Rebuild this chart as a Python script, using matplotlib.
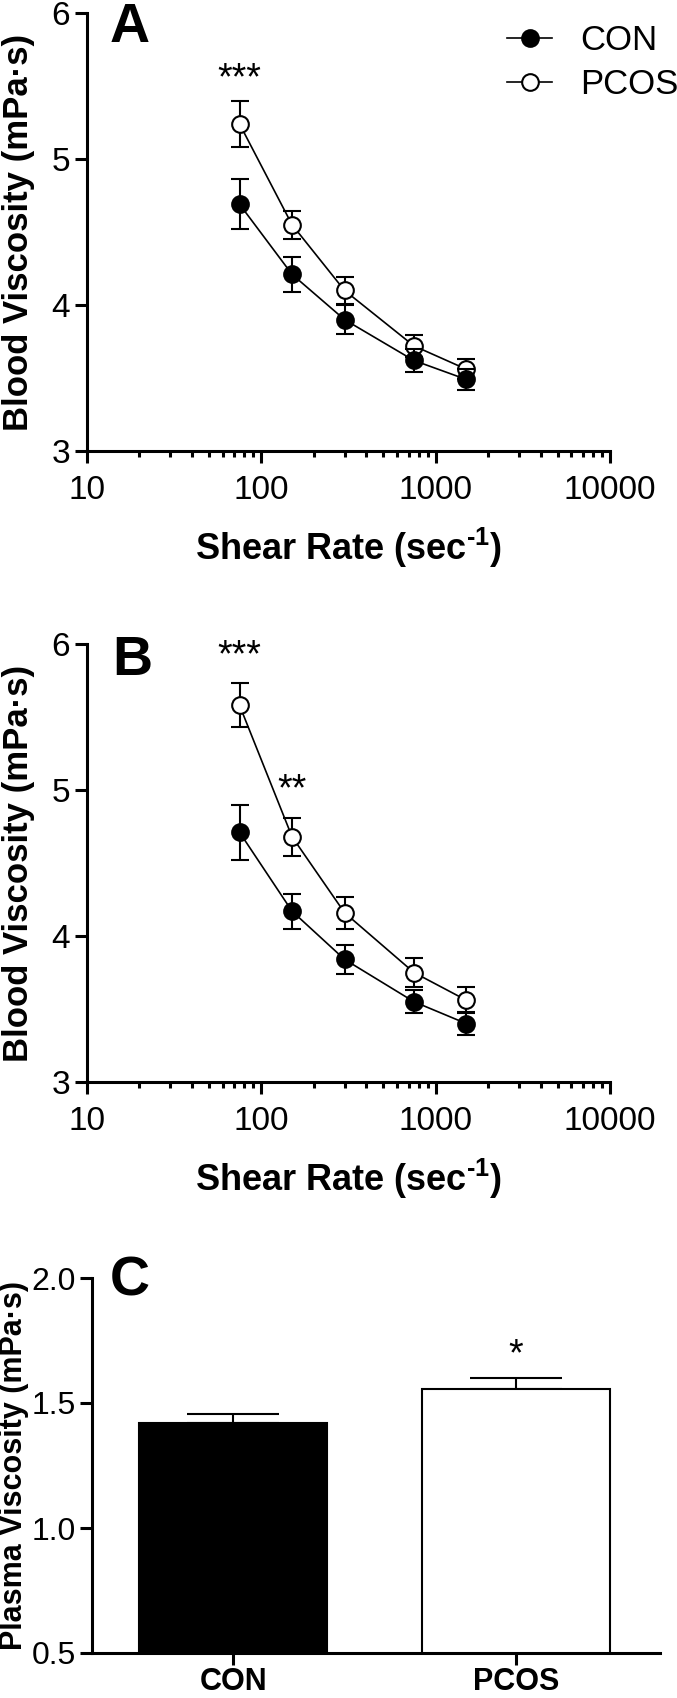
import matplotlib
matplotlib.use("Agg")
import matplotlib.pyplot as plt
from matplotlib.lines import Line2D
from matplotlib.ticker import LogLocator, NullFormatter, FormatStrFormatter

plt.rcParams['font.family'] = ['Liberation Sans', 'DejaVu Sans']
plt.rcParams['mathtext.fontset'] = 'custom'
plt.rcParams['mathtext.rm'] = 'Liberation Sans:bold'
plt.rcParams['mathtext.default'] = 'regular'

# ---- data ----
shear_rate = [75, 150, 300, 750, 1500]

# panel A
a_con = [4.69, 4.21, 3.90, 3.62, 3.49]
a_con_sem = [0.17, 0.12, 0.10, 0.08, 0.07]
a_pcos = [5.24, 4.55, 4.10, 3.72, 3.56]
a_pcos_sem = [0.16, 0.095, 0.09, 0.075, 0.07]
a_sig = [(75, 5.48, '***')]

# panel B
b_con = [4.71, 4.17, 3.84, 3.55, 3.40]
b_con_sem = [0.19, 0.12, 0.10, 0.08, 0.08]
b_pcos = [5.58, 4.68, 4.16, 3.75, 3.56]
b_pcos_sem = [0.15, 0.13, 0.11, 0.10, 0.09]
b_sig = [(75, 5.85, '***'), (150, 4.93, '**')]

# panel C
groups = ['CON', 'PCOS']
plasma = [1.42, 1.555]
plasma_sem = [0.035, 0.045]
c_sig = [(1, 1.65, '*')]

W, H = 677, 1698
fig = plt.figure(figsize=(W / 100, H / 100), dpi=100)

XLABEL = r'Shear Rate (sec$^{\text{-}1}$)'


def style_axes(ax):
    for s in ['top', 'right']:
        ax.spines[s].set_visible(False)
    for s in ['left', 'bottom']:
        ax.spines[s].set_linewidth(2.2)
    ax.tick_params(which='major', length=8.6, width=2.2, direction='out')
    ax.tick_params(which='minor', length=4.3, width=2.2, direction='out')


def line_panel(ax, con, con_sem, pcos, pcos_sem, sig):
    ax.errorbar(shear_rate, pcos, yerr=pcos_sem, fmt='o-', color='black',
                mfc='white', mec='black', ms=12, mew=1.5, lw=1.2,
                elinewidth=1.5, capsize=6.5, capthick=1.5, zorder=3)
    ax.errorbar(shear_rate, con, yerr=con_sem, fmt='o-', color='black',
                mfc='black', mec='black', ms=12, mew=1.5, lw=1.2,
                elinewidth=1.5, capsize=6.5, capthick=1.5, zorder=4)
    for x, y, s in sig:
        ax.text(x, y, s, ha='center', va='baseline', fontsize=27)
    ax.set_xscale('log')
    ax.set_xlim(10, 10000)
    ax.set_ylim(3, 6)
    ax.set_xticks([10, 100, 1000, 10000])
    ax.set_xticklabels(['10', '100', '1000', '10000'])
    ax.xaxis.set_minor_locator(LogLocator(base=10, subs=range(2, 10)))
    ax.xaxis.set_minor_formatter(NullFormatter())
    ax.set_yticks([3, 4, 5, 6])
    ax.set_yticklabels(['3', '4', '5', '6'])
    style_axes(ax)
    ax.tick_params(axis='x', which='major', labelsize=24, pad=9)
    ax.tick_params(axis='y', which='major', labelsize=24, pad=3.6)
    ax.set_xlabel(XLABEL, fontsize=26, fontweight='bold', va='baseline')
    ax.xaxis.set_label_coords(0.5, -109 / 438)
    ax.set_ylabel('Blood Viscosity (mPa·s)', fontsize=25, fontweight='bold')
    ax.yaxis.set_label_coords((35 - 87) / 523, 0.5)


axA = fig.add_axes([87 / W, 1 - 451 / H, 523 / W, 438 / H])
line_panel(axA, a_con, a_con_sem, a_pcos, a_pcos_sem, a_sig)

axB = fig.add_axes([87 / W, 1 - 1082 / H, 523 / W, 438 / H])
line_panel(axB, b_con, b_con_sem, b_pcos, b_pcos_sem, b_sig)

# legend (panel A)
handles = [Line2D([], [], color='black', lw=1.2, marker='o', ms=12, mew=1.5, mfc='black', mec='black'),
           Line2D([], [], color='black', lw=1.2, marker='o', ms=12, mew=1.5, mfc='white', mec='black')]
axA.legend(handles, ['CON', 'PCOS'], loc='center left', bbox_to_anchor=(507 / W, 1 - 62.5 / H),
           bbox_transform=fig.transFigure, frameon=False, fontsize=25, handlelength=1.3,
           handletextpad=0.8, labelspacing=0.3, borderpad=0, borderaxespad=0)

# panel C
axC = fig.add_axes([92 / W, 1 - 1653 / H, 568 / W, 375 / H])
xpos = list(range(len(groups)))
axC.bar(xpos, plasma, width=0.665, color=['black', 'white'], edgecolor='black', linewidth=1.5, zorder=2)
axC.errorbar(xpos, plasma, yerr=[[0] * len(plasma), plasma_sem], fmt='none', ecolor='black',
             elinewidth=1.5, capsize=33, capthick=1.5, zorder=1)
for x, y, s in c_sig:
    axC.text(x, y, s, ha='center', va='baseline', fontsize=27)
axC.set_xlim(-0.5, 1.51)
axC.set_ylim(0.5, 2.0)
axC.set_yticks([0.5, 1.0, 1.5, 2.0])
axC.yaxis.set_major_formatter(FormatStrFormatter('%.1f'))
axC.set_xticks(xpos)
axC.set_xticklabels(groups, fontweight='bold')
style_axes(axC)
axC.tick_params(axis='x', labelsize=22, pad=1.5)
axC.tick_params(axis='y', labelsize=23, pad=3)
axC.set_ylabel('Plasma Viscosity (mPa·s)', fontsize=22, fontweight='bold')
axC.yaxis.set_label_coords((29 - 92) / 568, 0.5)

# panel letters
fig.text(110 / W, 1 - 42 / H, 'A', fontsize=40, fontweight='bold', va='baseline')
fig.text(112 / W, 1 - 675 / H, 'B', fontsize=40, fontweight='bold', va='baseline')
fig.text(110 / W, 1 - 1296 / H, 'C', fontsize=40, fontweight='bold', va='baseline')

fig.savefig('out.png', dpi=100)
